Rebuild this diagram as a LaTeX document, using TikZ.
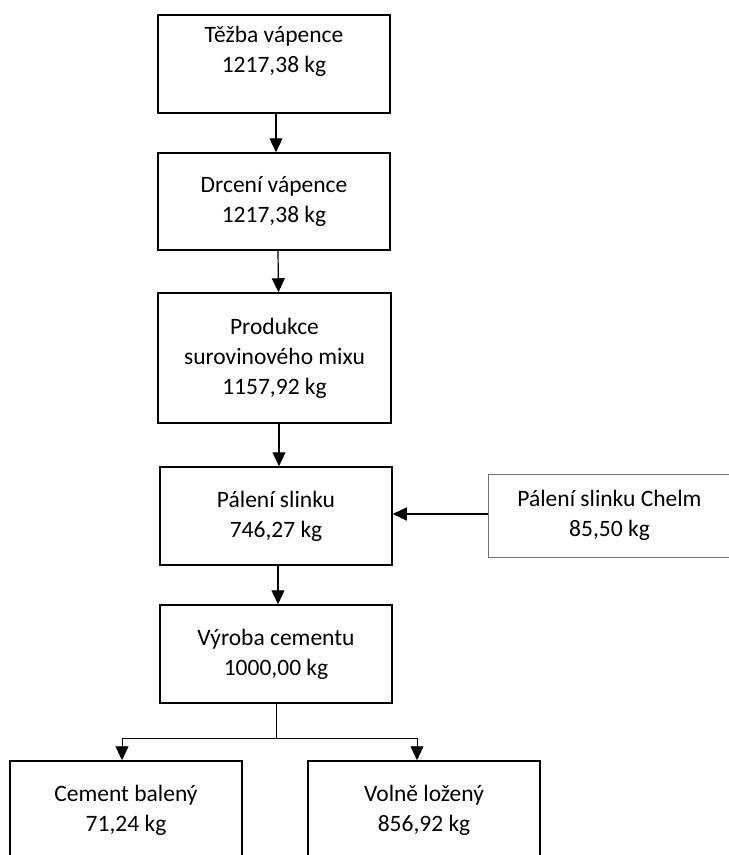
\documentclass[tikz,border=0pt]{standalone}
\usepackage{fontspec}
\setmainfont{Carlito}
\usetikzlibrary{arrows.meta}
\begin{document}
\begin{tikzpicture}[x=1pt,y=-1pt,
  box/.style={draw, line width=1.5pt, minimum width=232pt, minimum height=98pt,
    inner sep=0pt, align=center, font=\fontsize{23.5}{30}\selectfont},
  graybox/.style={box, draw=black!55, line width=1pt},
  arr/.style={line width=1.2pt, -{Triangle[length=14pt,width=13pt]}},
  thinarr/.style={line width=0.9pt, -{Triangle[length=14pt,width=13pt]}},
  thin/.style={line width=0.9pt}]
\useasboundingbox (0,0) rectangle (729,855);
\node[box] (b1) at (274,64) {Těžba vápence\\1217,38 kg\\ };
\node[box, minimum height=97pt] (b2) at (274,201.5) {Drcení vápence\\1217,38 kg};
\node[box, minimum height=130pt, minimum width=233pt] (b3) at (274.5,358) {Produkce\\surovinového mixu\\1157,92 kg};
\node[box] (b4) at (276,516) {Pálení slinku\\746,27 kg};
\node[graybox, minimum width=243pt, minimum height=83pt] (ch) at (609.5,515.5) {Pálení slinku Chelm\\85,50 kg};
\node[box] (b5) at (276,654) {Výroba cementu\\1000,00 kg};
\node[box] (bl) at (126,810) {Cement balený\\71,24 kg};
\node[box] (br) at (424,810) {Volně ložený\\856,92 kg};
\coordinate (sp) at (276,738);
\draw[arr] ([xshift=2pt]b1.south) -- ([xshift=2pt]b2.north);
\draw[arr] ([xshift=4pt]b2.south) -- ([xshift=4pt]b3.north);
\draw[arr] ([xshift=4.5pt]b3.south) -- ([xshift=3pt]b4.north);
\draw[arr] ([xshift=2pt]b4.south) -- ([xshift=2pt]b5.north);
\draw[arr] (ch.west |- 0,514) -- (b4.east |- 0,514);
\draw[thin] (b5.south) -- (sp);
\draw[thinarr] (sp) -| ([xshift=-4pt]bl.north);
\draw[thinarr] (sp) -| ([xshift=-7pt]br.north);
\end{tikzpicture}
\end{document}
